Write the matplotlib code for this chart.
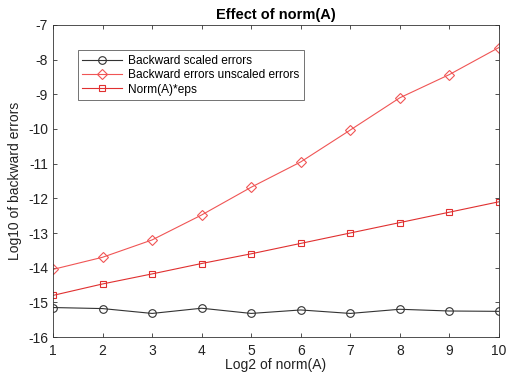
import matplotlib
matplotlib.use("Agg")
import matplotlib.pyplot as plt

plt.rcParams['font.family'] = ['Liberation Sans', 'DejaVu Sans']

x = [1, 2, 3, 4, 5, 6, 7, 8, 9, 10]
scaled = [-15.15, -15.18, -15.32, -15.17, -15.32, -15.22, -15.32, -15.20, -15.25, -15.26]
unscaled = [-14.05, -13.70, -13.20, -12.48, -11.68, -10.95, -10.03, -9.10, -8.43, -7.65]
normeps = [-14.80, -14.47, -14.18, -13.88, -13.60, -13.30, -13.00, -12.70, -12.40, -12.10]
xticks = [1, 2, 3, 4, 5, 6, 7, 8, 9, 10]
yticks = [-16, -15, -14, -13, -12, -11, -10, -9, -8, -7]

fig = plt.figure(figsize=(5.07, 3.73), dpi=100)
ax = fig.add_axes([0.1045, 0.0965, 0.8795, 0.8365])

ax.plot(x, scaled, color='#333333', lw=0.8, marker='o', ms=5.5, mfc='none', mec='#333333', mew=0.8,
        label='Backward scaled errors')
ax.plot(x, unscaled, color='#f05555', lw=0.8, marker='D', ms=5, mfc='none', mec='#f05555', mew=0.8,
        label='Backward errors unscaled errors')
ax.plot(x, normeps, color='#e03030', lw=0.8, marker='s', ms=5, mfc='none', mec='#e03030', mew=0.8,
        label='Norm(A)*eps')

ax.set_xlim(1, 10)
ax.set_ylim(-16, -7)
ax.set_xticks(xticks)
ax.set_yticks(yticks)
ax.set_xticklabels([str(v) for v in xticks])
ax.set_yticklabels([str(v) for v in yticks])
ax.tick_params(direction='in', top=True, right=True, labelsize=10, length=3, width=0.6,
               colors='#333333', labelcolor='#222222')
ax.tick_params(axis='x', pad=5)
for s in ax.spines.values():
    s.set_linewidth(0.6)
    s.set_color('#333333')

ax.set_xlabel('Log2 of norm(A)', fontsize=10, labelpad=0, color='#222222')
ax.set_ylabel('Log10 of backward errors', fontsize=10, labelpad=4, color='#222222')
ax.set_title('Effect of norm(A)', fontsize=10.5, fontweight='bold', pad=4)

leg = ax.legend(loc='upper left', bbox_to_anchor=(0.055, 0.92), fontsize=8.6, frameon=True,
                fancybox=False, edgecolor='#333333', handlelength=3.3, borderpad=0.4,
                labelspacing=0.2, handletextpad=0.5, borderaxespad=0)
leg.get_frame().set_linewidth(0.6)

fig.savefig('out.png', dpi=100)
